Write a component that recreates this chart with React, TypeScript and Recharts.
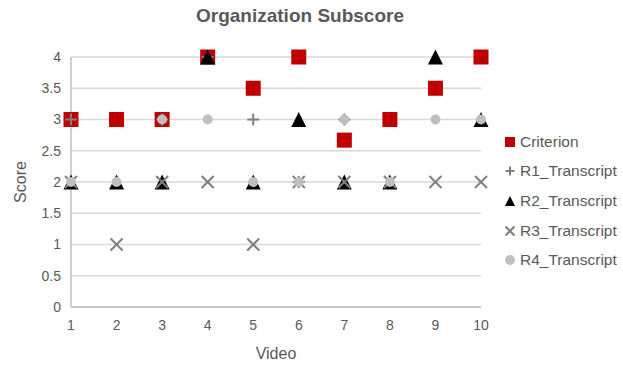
import React from 'react';
import { ScatterChart, Scatter, XAxis, YAxis, CartesianGrid } from 'recharts';

const videos = [1, 2, 3, 4, 5, 6, 7, 8, 9, 10];
const criterion = [3, 3, 3, 4, 3.5, 4, 2.67, 3, 3.5, 4];
const r1 = [3, null, 3, 4, 3, 2, 3, null, null, null];
const r2 = [2, 2, 2, 4, 2, 3, 2, 2, 4, 3];
const r3 = [2, 1, 2, 2, 1, 2, 2, 2, 2, 2];
const r4 = [2, 2, 3, 3, 2, 2, 3, 2, 3, 3];
const yTicks = [0, 0.5, 1, 1.5, 2, 2.5, 3, 3.5, 4];

const FONT = '"Liberation Sans", Arial, Helvetica, sans-serif';
const TEXT = '#595959';

const toPoints = (vals: (number | null)[]) =>
  videos
    .map((v, i) => ({ x: v, y: vals[i] }))
    .filter((p) => p.y !== null);

const Square = ({ cx, cy, s = 15 }: any) => (
  <rect x={cx - s / 2} y={cy - s / 2} width={s} height={s} fill="#C00000" />
);

const Plus = ({ cx, cy, s = 12 }: any) => (
  <g stroke="#7F7F7F" strokeWidth={2}>
    <line x1={cx - s / 2} y1={cy} x2={cx + s / 2} y2={cy} />
    <line x1={cx} y1={cy - s / 2} x2={cx} y2={cy + s / 2} />
  </g>
);

const Triangle = ({ cx, cy, s = 15 }: any) => (
  <polygon
    points={`${cx},${cy - s / 2} ${cx + s / 2},${cy + s / 2} ${cx - s / 2},${cy + s / 2}`}
    fill="#000000"
  />
);

const Cross = ({ cx, cy, s = 12 }: any) => (
  <g stroke="#7F7F7F" strokeWidth={2}>
    <line x1={cx - s / 2} y1={cy - s / 2} x2={cx + s / 2} y2={cy + s / 2} />
    <line x1={cx - s / 2} y1={cy + s / 2} x2={cx + s / 2} y2={cy - s / 2} />
  </g>
);

const Dot = ({ cx, cy, s = 10 }: any) => <circle cx={cx} cy={cy} r={s / 2} fill="#BFBFBF" />;

const series = [
  { name: 'Criterion', values: criterion, shape: Square, legendSize: 10 },
  { name: 'R1_Transcript', values: r1, shape: Plus, legendSize: 9 },
  { name: 'R2_Transcript', values: r2, shape: Triangle, legendSize: 10 },
  { name: 'R3_Transcript', values: r3, shape: Cross, legendSize: 9 },
  { name: 'R4_Transcript', values: r4, shape: Dot, legendSize: 10 },
];

const YLabel = ({ viewBox }: any) => {
  const x = 20;
  const y = viewBox.y + viewBox.height / 2;
  return (
    <text x={x} y={y} transform={`rotate(-90, ${x}, ${y})`} textAnchor="middle" dominantBaseline="central"
      fill={TEXT} fontSize={16} fontFamily={FONT}>
      Score
    </text>
  );
};

export default function App() {
  return (
    <div style={{ position: 'absolute', left: 0, top: 0, width: 623, height: 366, background: '#fff', fontFamily: FONT }}>
      <div style={{ position: 'absolute', top: 5, left: 0, width: 600, textAlign: 'center', fontSize: 19, fontWeight: 'bold', color: TEXT }}>
        Organization Subscore
      </div>
      <ScatterChart width={623} height={366} margin={{ top: 57, right: 142, bottom: 0, left: 21 }}>
        <CartesianGrid vertical={false} stroke="#D9D9D9" strokeWidth={1.5} />
        <XAxis
          type="number"
          dataKey="x"
          domain={[1, 10]}
          ticks={videos}
          height={59}
          tickLine={false}
          tickSize={0}
          tickMargin={13}
          axisLine={{ stroke: '#BFBFBF', strokeWidth: 1.5 }}
          tick={{ fill: TEXT, fontSize: 14, fontFamily: FONT }}
          label={{ value: 'Video', position: 'insideBottom', offset: 7, fill: TEXT, fontSize: 16, fontFamily: FONT }}
        />
        <YAxis
          type="number"
          dataKey="y"
          domain={[0, 4]}
          ticks={yTicks}
          width={50}
          tickLine={false}
          tickSize={0}
          tickMargin={10}
          axisLine={{ stroke: '#BFBFBF', strokeWidth: 1.5 }}
          tick={{ fill: TEXT, fontSize: 14, fontFamily: FONT }}
          label={<YLabel />}
        />
        {series.map((s) => {
          const Shape = s.shape;
          return (
            <Scatter
              key={s.name}
              name={s.name}
              data={toPoints(s.values)}
              isAnimationActive={false}
              shape={(p: any) => <Shape cx={p.cx} cy={p.cy} />}
            />
          );
        })}
      </ScatterChart>
      {/* Legend */}
      <div style={{ position: 'absolute', left: 503, top: 127 }}>
        {series.map((s) => {
          const Shape = s.shape;
          return (
            <div key={s.name} style={{ display: 'flex', alignItems: 'center', height: 29.6, fontSize: 15.5, color: TEXT }}>
              <svg width={14} height={14} style={{ marginRight: 3 }}>
                <Shape cx={7} cy={7} s={s.legendSize} />
              </svg>
              <span>{s.name}</span>
            </div>
          );
        })}
      </div>
    </div>
  );
}
